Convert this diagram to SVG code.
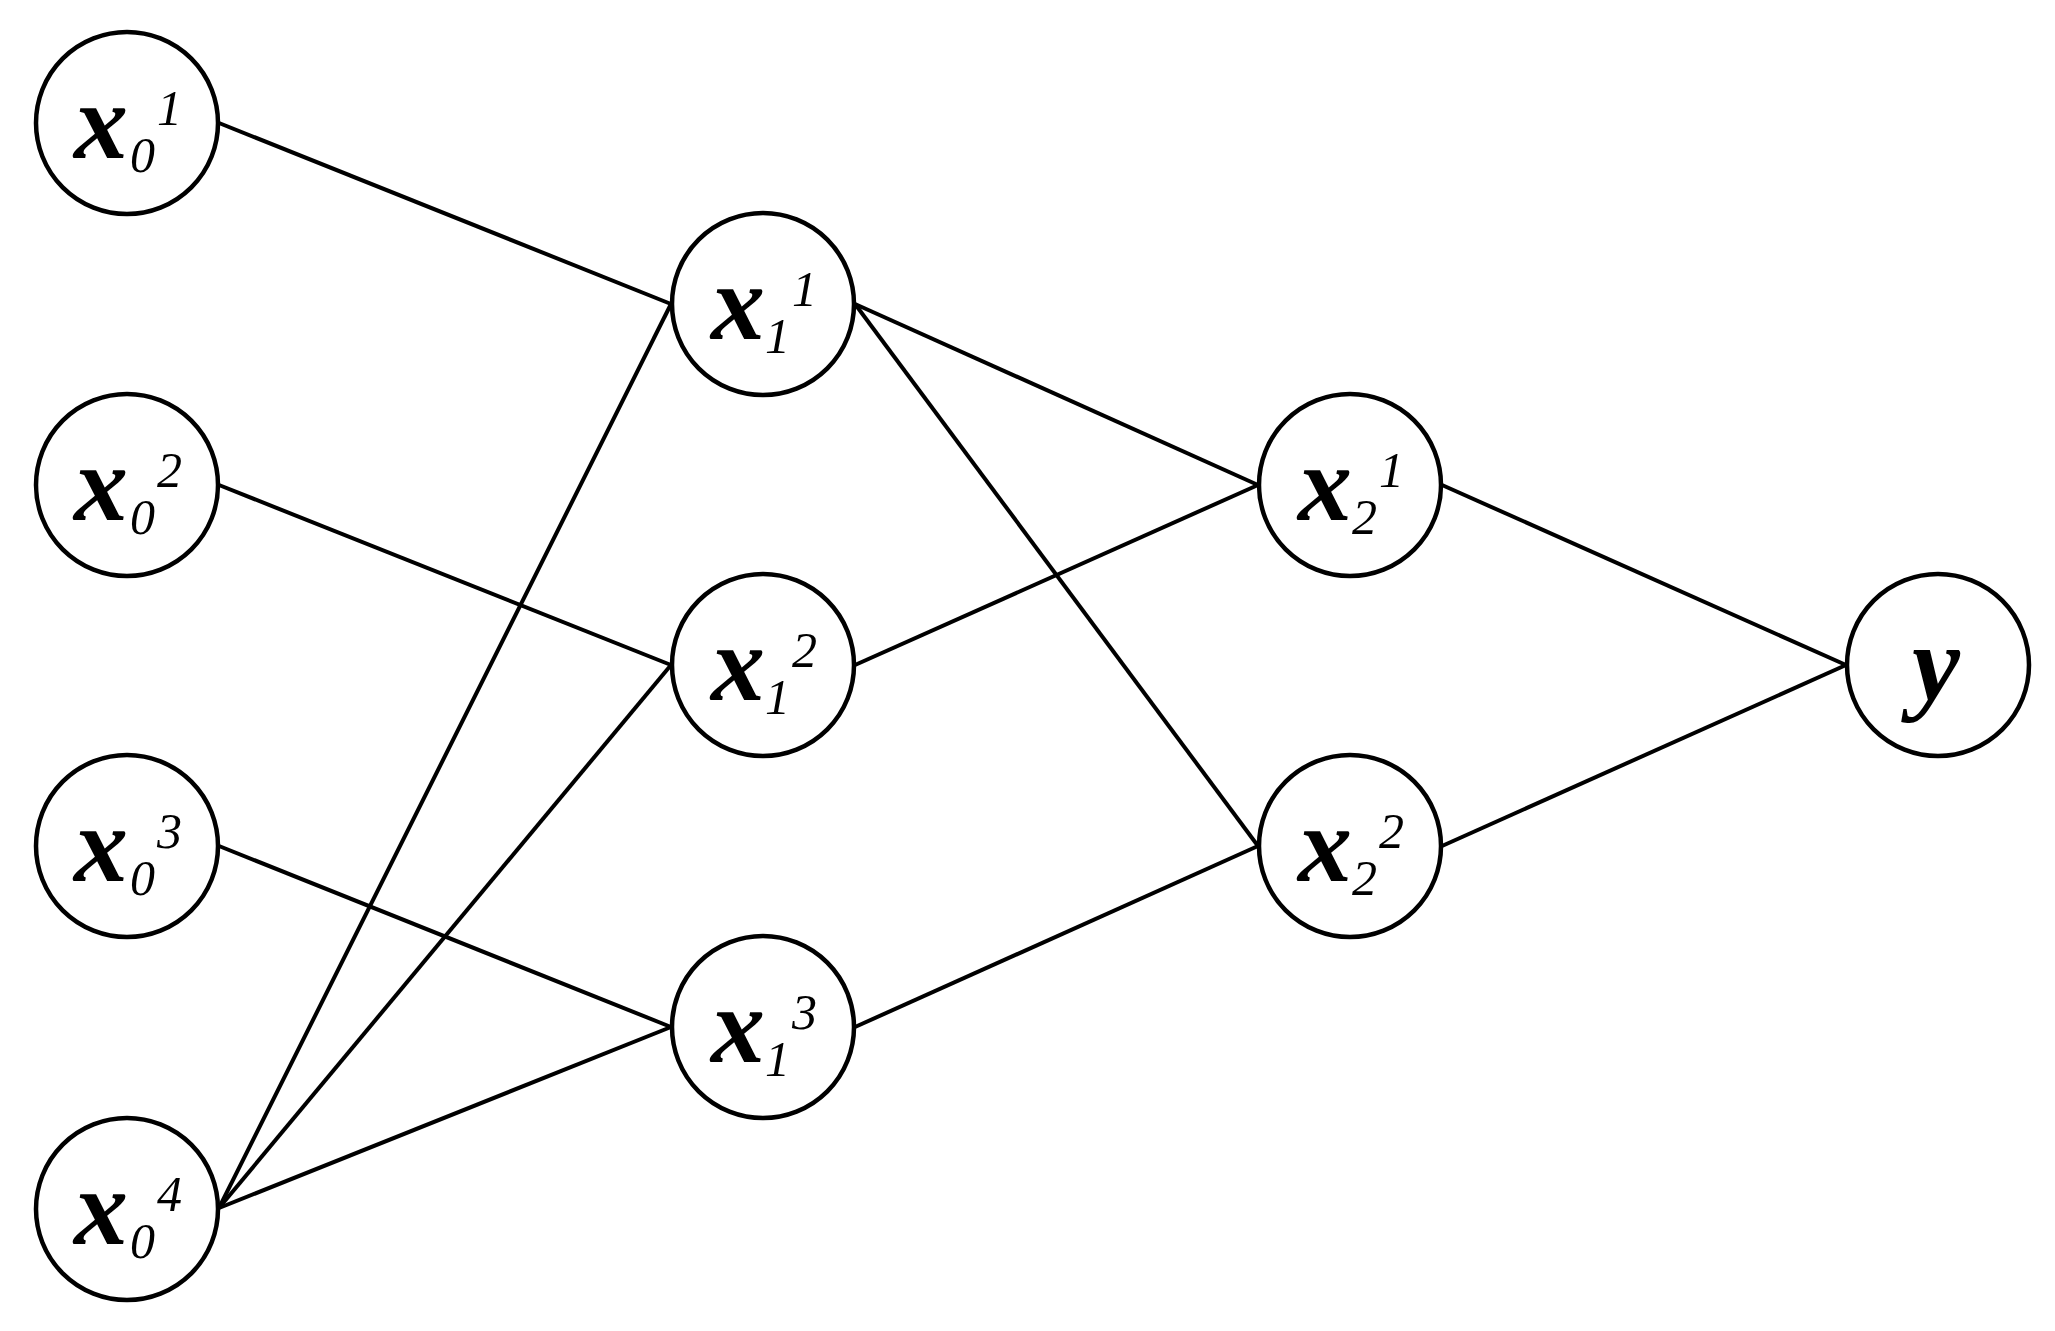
<svg xmlns="http://www.w3.org/2000/svg" width="2055" height="1331" viewBox="0 0 2055 1331">
<style>
.n{fill:#fff;stroke:#000;stroke-width:4.5}
.e line{stroke:#000;stroke-width:4}
</style>
<rect width="2055" height="1331" fill="#fff"/>
<g class="e" id="connectors">
<line x1="219" y1="123" x2="671" y2="304"/>
<line x1="219" y1="485" x2="671" y2="665"/>
<line x1="219" y1="846" x2="671" y2="1027"/>
<line x1="219" y1="1208" x2="671" y2="304"/>
<line x1="219" y1="1208" x2="671" y2="665"/>
<line x1="219" y1="1208" x2="671" y2="1027"/>
<line x1="855" y1="304" x2="1258" y2="485"/>
<line x1="855" y1="304" x2="1258" y2="846"/>
<line x1="855" y1="665" x2="1258" y2="485"/>
<line x1="855" y1="1027" x2="1258" y2="846"/>
<line x1="1442" y1="485" x2="1846" y2="665"/>
<line x1="1442" y1="846" x2="1846" y2="665"/>
</g>
<g id="x0_1"><circle class="n" cx="127" cy="123" r="91"/><text font-family="Liberation Serif" font-style="italic" fill="#000"><tspan font-weight="bold" font-size="108" x="74" y="158">x</tspan><tspan font-size="50" x="130" y="172">0</tspan><tspan font-size="50" x="157" y="125">1</tspan></text></g>
<g id="x0_2"><circle class="n" cx="127" cy="485" r="91"/><text font-family="Liberation Serif" font-style="italic" fill="#000"><tspan font-weight="bold" font-size="108" x="74" y="520">x</tspan><tspan font-size="50" x="130" y="534">0</tspan><tspan font-size="50" x="157" y="487">2</tspan></text></g>
<g id="x0_3"><circle class="n" cx="127" cy="846" r="91"/><text font-family="Liberation Serif" font-style="italic" fill="#000"><tspan font-weight="bold" font-size="108" x="74" y="881">x</tspan><tspan font-size="50" x="130" y="895">0</tspan><tspan font-size="50" x="157" y="848">3</tspan></text></g>
<g id="x0_4"><circle class="n" cx="127" cy="1209" r="91"/><text font-family="Liberation Serif" font-style="italic" fill="#000"><tspan font-weight="bold" font-size="108" x="74" y="1244">x</tspan><tspan font-size="50" x="130" y="1258">0</tspan><tspan font-size="50" x="157" y="1211">4</tspan></text></g>
<g id="x1_1"><circle class="n" cx="763" cy="304" r="91"/><text font-family="Liberation Serif" font-style="italic" fill="#000"><tspan font-weight="bold" font-size="108" x="711" y="339">x</tspan><tspan font-size="50" x="765" y="353">1</tspan><tspan font-size="50" x="792" y="306">1</tspan></text></g>
<g id="x1_2"><circle class="n" cx="763" cy="665" r="91"/><text font-family="Liberation Serif" font-style="italic" fill="#000"><tspan font-weight="bold" font-size="108" x="711" y="700">x</tspan><tspan font-size="50" x="765" y="714">1</tspan><tspan font-size="50" x="792" y="667">2</tspan></text></g>
<g id="x1_3"><circle class="n" cx="763" cy="1027" r="91"/><text font-family="Liberation Serif" font-style="italic" fill="#000"><tspan font-weight="bold" font-size="108" x="711" y="1062">x</tspan><tspan font-size="50" x="765" y="1076">1</tspan><tspan font-size="50" x="792" y="1029">3</tspan></text></g>
<g id="x2_1"><circle class="n" cx="1350" cy="485" r="91"/><text font-family="Liberation Serif" font-style="italic" fill="#000"><tspan font-weight="bold" font-size="108" x="1298" y="520">x</tspan><tspan font-size="50" x="1352" y="534">2</tspan><tspan font-size="50" x="1379" y="487">1</tspan></text></g>
<g id="x2_2"><circle class="n" cx="1350" cy="846" r="91"/><text font-family="Liberation Serif" font-style="italic" fill="#000"><tspan font-weight="bold" font-size="108" x="1298" y="881">x</tspan><tspan font-size="50" x="1352" y="895">2</tspan><tspan font-size="50" x="1379" y="848">2</tspan></text></g>
<g id="y"><circle class="n" cx="1938" cy="665" r="91"/><text font-family="Liberation Serif" font-style="italic" font-weight="bold" font-size="108" fill="#000" x="1936" y="700" text-anchor="middle">y</text></g>
</svg>
